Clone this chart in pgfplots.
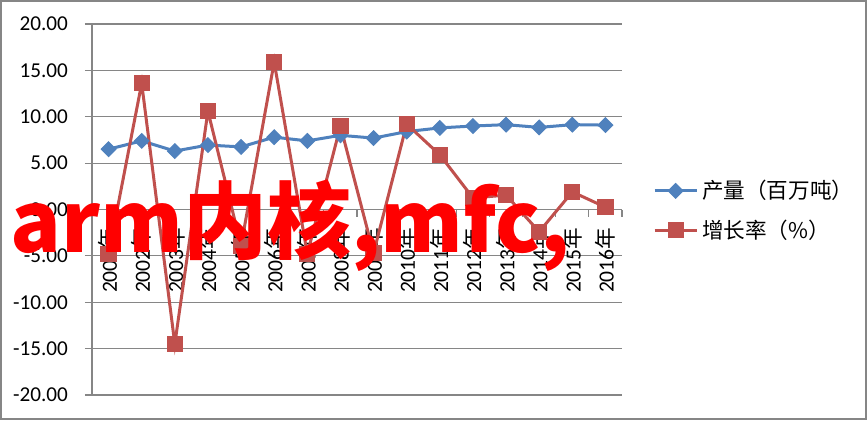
\documentclass[border=0pt]{standalone}
\usepackage{fontspec}
\setmainfont{Carlito}
\newfontfamily\cjk{Noto Sans CJK SC}
\usepackage{pgfplots}
\pgfplotsset{compat=1.18}
\definecolor{blueS}{HTML}{4F81BD}
\definecolor{redS}{HTML}{C0504D}
\definecolor{gridc}{HTML}{868686}
\begin{document}
\begin{tikzpicture}[x=1pt,y=1pt]
\useasboundingbox (0,0) rectangle (433.5,210);
\fill[white] (0,0) rectangle (433.5,210);
\draw[gridc, line width=1pt] (0.5,0.5) rectangle (433,209.5);
\begin{axis}[
  at={(46pt,12.5pt)}, anchor=south west,
  scale only axis, width=265pt, height=185.5pt,
  xmin=-0.5, xmax=15.5, ymin=-20, ymax=20,
  axis x line=middle, axis y line=left,
  axis line style={-, draw=gridc, line width=0.6pt},
  ytick={-20,-15,...,20},
  yticklabels={-20.00,-15.00,-10.00,-5.00,0.00,5.00,10.00,15.00,20.00},
  ymajorgrids, grid style={gridc, line width=0.6pt},
  tick style={gridc, line width=0.6pt},
  tick align=outside,
  major tick length=3.5pt,
  ytick pos=left,
  yticklabel style={font=\fontsize{10.6}{12}\selectfont, xshift=-5pt, text=black},
  xtick={-0.5,0.5,...,15.5},
  xticklabels={},
  extra x ticks={0,1,...,15},
  extra x tick labels={2001{\cjk 年},2002{\cjk 年},2003{\cjk 年},2004{\cjk 年},2005{\cjk 年},2006{\cjk 年},2007{\cjk 年},2008{\cjk 年},2009{\cjk 年},2010{\cjk 年},2011{\cjk 年},2012{\cjk 年},2013{\cjk 年},2014{\cjk 年},2015{\cjk 年},2016{\cjk 年}},
  extra x tick style={major tick length=0pt, xticklabel style={rotate=90, anchor=east, font=\fontsize{10.8}{12}\selectfont, xshift=-5.5pt, text=black}},
  legend image code/.code={\draw[mark repeat=2,mark phase=2,#1] plot coordinates {(0pt,0pt) (10.5pt,0pt) (21pt,0pt)};},
  legend style={draw=none, fill=none, at={(1.058,0.497)}, anchor=west, font=\cjk\fontsize{10.8}{12}\selectfont, row sep=5pt, inner sep=0pt},
  legend cell align=left,
]
\addplot[blueS, line width=1.5pt, mark=square*, mark size=2.6pt, mark options={rotate=45, solid, fill=blueS, draw=blueS, line width=0.5pt}]
  coordinates {(0,6.5) (1,7.4) (2,6.3) (3,6.95) (4,6.75) (5,7.8) (6,7.4) (7,8.0) (8,7.7) (9,8.4) (10,8.8) (11,9.0) (12,9.15) (13,8.85) (14,9.15) (15,9.1)};
\addlegendentry{产量（百万吨）}
\addplot[redS, line width=1.5pt, mark=square*, mark size=3.8pt, mark options={solid, fill=redS, draw=redS, line width=0.5pt}]
  coordinates {(0,-4.8) (1,13.6) (2,-14.5) (3,10.6) (4,-3.9) (5,15.9) (6,-4.8) (7,9.0) (8,-4.7) (9,9.2) (10,5.9) (11,1.25) (12,1.55) (13,-2.4) (14,1.9) (15,0.25)};
\addlegendentry{增长率（\%）}
\end{axis}
\node[anchor=base west, inner sep=0pt, text=red, font=\cjk\bfseries\fontsize{42}{42}\selectfont] at (5,84) {arm内核,mfc,};
\end{tikzpicture}
\end{document}
